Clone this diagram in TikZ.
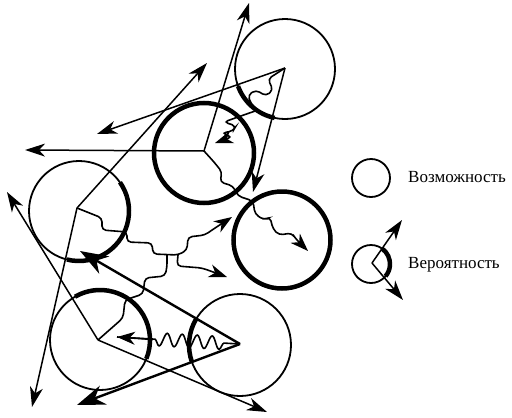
\documentclass[tikz,border=0pt]{standalone}
\usepackage{fontspec}
\setmainfont{Liberation Serif}
\usetikzlibrary{arrows.meta,decorations.pathmorphing}
\begin{document}
\begin{tikzpicture}[x=1pt,y=-1pt,
  thinring/.style={circle,draw,line width=1.8pt,inner sep=0pt,minimum size=#1},
  thickring/.style={circle,draw,line width=4.5pt,inner sep=0pt,minimum size=#1},
  heavyarc/.style={line width=4.5pt},
  ray/.style={line width=1.5pt,-{Stealth[length=20pt,width=13pt,inset=6pt]}},
  bigray/.style={line width=2.4pt,-{Stealth[length=28pt,width=20pt,inset=9pt]}},
  wave/.style={line width=1.6pt,rounded corners=4pt,-{Stealth[length=18pt,width=13pt,inset=5.5pt]}},
  plainwave/.style={line width=1.6pt,rounded corners=4pt},
  label/.style={anchor=base west,inner sep=0pt,font=\fontsize{17}{20}\selectfont}]
\useasboundingbox (0,0) rectangle (512,418);
% circles
\node[thinring=100pt]  (c1) at (285,69) {};
\node[thickring=100pt] (c2) at (204,153) {};
\node[thinring=100pt]  (c3) at (79,211) {};
\node[thinring=100pt]  (c4) at (100,340) {};
\node[thickring=97pt]  (c5) at (282,240) {};
\node[thinring=102pt]  (c6) at (240,345) {};
% heavy arcs
\draw[heavyarc] (c1.center) ++(-200:50) arc[start angle=-200,end angle=-258,radius=50];
\draw[heavyarc] (c3.center) ++(-35:50) arc[start angle=-35,end angle=104,radius=50];
\draw[heavyarc] (c4.center) ++(-120:50) arc[start angle=-120,end angle=22,radius=50];
\draw[heavyarc] (c6.center) ++(-148:51) arc[start angle=-148,end angle=-200,radius=51];
% vertices
\coordinate (v1) at (285,68);
\coordinate (v2) at (204,151);
\coordinate (v3) at (77,208);
\coordinate (v4) at (98,340);
\coordinate (v6) at (240,344);
% tips
\coordinate (t1a) at (97,134);
\coordinate (t1b) at (253,192);
\coordinate (t2a) at (25,150);
\coordinate (t2b) at (249,3);
\coordinate (t3a) at (207,63);
\coordinate (t3b) at (32,407);
\coordinate (t4a) at (7,192);
\coordinate (t4b) at (267,412);
\coordinate (t6a) at (80,251);
\coordinate (t6b) at (77,405);
% rays
\draw[ray] (v1) -- (t1a);
\draw[ray] (v1) -- (t1b);
\draw[ray] (v2) -- (t2a);
\draw[ray] (v2) -- (t2b);
\draw[ray] (v3) -- (t3a);
\draw[ray] (v3) -- (t3b);
\draw[ray] (v4) -- (t4a);
\draw[ray] (v4) -- (t4b);
\draw[bigray] (v6) -- (t6a);
\draw[bigray] (v6) -- (t6b);
% wave tips
\coordinate (a1) at (215,143);
\coordinate (a2) at (308,251);
\coordinate (a3a) at (232,217);
\coordinate (a3b) at (227,277);
\coordinate (a6) at (117,337);
\coordinate (b3) at (178,255);
\coordinate (d3) at (167,255);
% waves
\draw[wave] (v1) -- (268,79) -- (273,90) -- (266,96) -- (256,90) -- (248,95) -- (251,104) -- (258,110) -- (238,117) -- (224,122) -- (236,126) -- (233,131) -- (222,133) -- (232,137) -- (a1);
\draw[wave] (v2) -- (214,162) -- (222,172) -- (220,182) -- (233,186) -- (238,196) -- (253,201) -- (255,214) -- (264,220) -- (270,217) -- (273,229) -- (279,235) -- (292,233) -- (295,238) -- (a2);
\draw[wave] (v3) -- (102,218) -- (102,230) -- (127,232) -- (127,242) -- (152,243) -- (153,254) -- (b3) -- (187,250) -- (188,237) -- (205,235) -- (212,230) -- (a3a);
\draw[wave] (b3) -- (177,266) -- (202,268) -- (a3b);
\draw[plainwave] (d3) -- (167,267) -- (165,276) -- (145,278) -- (143,294) -- (125,300) -- (123,318) -- (v4);
\draw[line width=1.6pt,decorate,decoration={snake,segment length=15pt,amplitude=6.5pt,pre length=16pt,post length=36pt}] (v6) -- (a6);
\draw[wave] (153,339.5) -- (a6);
% legend
\node[thinring=38pt] (l1) at (371,178) {};
\node[label] (txt1) at (408,182) {Возможность};
\node[thinring=38pt] (l2) at (371,264) {};
\draw[heavyarc] (l2.center) ++(-55:19) arc[start angle=-55,end angle=40,radius=19];
\coordinate (lv) at (372,263);
\coordinate (lt1) at (402,220);
\coordinate (lt2) at (403,300);
\draw[ray] (lv) -- (lt1);
\draw[ray] (lv) -- (lt2);
\node[label] (txt2) at (408,268) {Вероятность};
\end{tikzpicture}
\end{document}
